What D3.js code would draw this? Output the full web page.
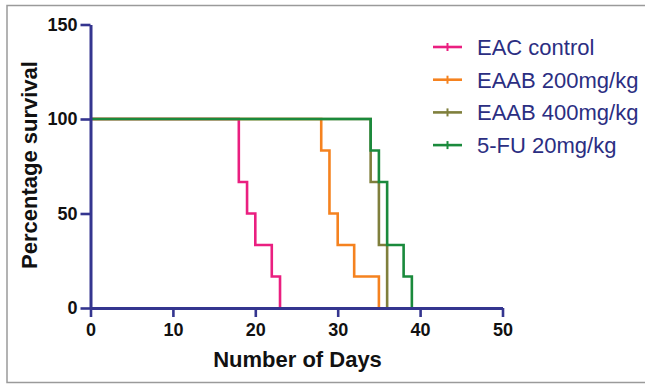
<!DOCTYPE html>
<html lang="en">
<head>
<meta charset="UTF-8">
<script src="https://d3js.org/d3.v7.min.js"></script>
<style>
  body { margin: 0; background: #fff; }
  svg { display: block; font-family: "Liberation Sans", Arial, sans-serif; }
</style>
</head>
<body>
<svg></svg>
<script>
    // survival data (percent alive after each event day)
    const groupNames = ["EAC control", "EAAB 200mg/kg", "EAAB 400mg/kg", "5-FU 20mg/kg"];
    const groupColors = ["#ea1f80", "#f5821f", "#7f7f3c", "#1a8a3c"];

    const eacDays = [0, 18, 19, 20, 22, 23];
    const eacSurv = [100, 66.7, 50, 33.3, 16.7, 0];

    const eaab200Days = [0, 28, 29, 30, 32, 35];
    const eaab200Surv = [100, 83.3, 50, 33.3, 16.7, 0];

    const eaab400Days = [0, 34, 35, 36];
    const eaab400Surv = [100, 66.7, 33.3, 0];

    const fuDays = [0, 34, 35, 36, 38, 39];
    const fuSurv = [100, 83.3, 66.7, 33.3, 16.7, 0];

    const xTicks = [0, 10, 20, 30, 40, 50];
    const yTicks = [0, 50, 100, 150];

    const width = 645, height = 384;
    const axisColor = "#34358f";

    let svg = d3.select("svg")
        .attr("width", width)
        .attr("height", height);

    // outer frame
    svg.append("rect")
        .attr("x", 7).attr("y", 5.5)
        .attr("width", 700).attr("height", 377)
        .attr("fill", "none")
        .attr("stroke", "#9a9a9a")
        .attr("stroke-width", 1.5);

    let x = d3.scaleLinear().domain([0, 50]).range([90.5, 502.5]);
    let y = d3.scaleLinear().domain([0, 150]).range([308, 24.5]);

    let series = [
        { days: eacDays, surv: eacSurv },
        { days: eaab200Days, surv: eaab200Surv },
        { days: eaab400Days, surv: eaab400Surv },
        { days: fuDays, surv: fuSurv }
    ];

    let line = d3.line()
        .x(d => x(d[0]))
        .y(d => y(d[1]))
        .curve(d3.curveStepAfter);

    svg.append("g")
        .selectAll("path")
        .data(series)
        .enter()
        .append("path")
        .attr("d", s => line(s.days.map((d, i) => [d, s.surv[i]])))
        .attr("fill", "none")
        .attr("stroke", (s, i) => groupColors[i])
        .attr("stroke-width", 2.6);

    // axes
    let xAxis = svg.append("g")
        .attr("transform", "translate(0,308)")
        .call(d3.axisBottom(x).tickValues(xTicks).tickSize(9).tickSizeOuter(0).tickPadding(6));

    let yAxis = svg.append("g")
        .attr("transform", "translate(90.5,0)")
        .call(d3.axisLeft(y).tickValues(yTicks).tickSize(10).tickSizeOuter(0).tickPadding(3));

    [xAxis, yAxis].forEach(a => {
        a.select(".domain").attr("stroke", axisColor).attr("stroke-width", 3);
        a.selectAll(".tick line").attr("stroke", axisColor).attr("stroke-width", 2.6);
        a.selectAll(".tick text")
            .attr("fill", "#111")
            .style("font-size", "18px")
            .style("font-weight", "bold")
            .style("font-family", "'Liberation Sans', Arial, sans-serif");
    });

    // axis titles
    svg.append("text")
        .attr("x", 297.5).attr("y", 367)
        .attr("text-anchor", "middle")
        .style("font-size", "22px")
        .style("font-weight", "bold")
        .attr("fill", "#111")
        .text("Number of Days");

    svg.append("text")
        .attr("transform", "translate(37,165) rotate(-90)")
        .attr("text-anchor", "middle")
        .style("font-size", "22px")
        .style("font-weight", "bold")
        .attr("fill", "#111")
        .text("Percentage survival");

    // legend
    let legend = svg.append("g")
        .selectAll("g")
        .data(groupNames)
        .enter()
        .append("g")
        .attr("transform", (d, i) => "translate(433," + (47 + i * 32.7) + ")");

    legend.append("line")
        .attr("x1", 0).attr("x2", 29)
        .attr("stroke", (d, i) => groupColors[i])
        .attr("stroke-width", 2.6);

    legend.append("line")
        .attr("x1", 14.5).attr("x2", 14.5)
        .attr("y1", -4).attr("y2", 4)
        .attr("stroke", (d, i) => groupColors[i])
        .attr("stroke-width", 2);

    legend.append("text")
        .attr("x", 44)
        .attr("dy", "0.36em")
        .style("font-size", "22px")
        .attr("fill", "#2b2e82")
        .text(d => d);
</script>
</body>
</html>
